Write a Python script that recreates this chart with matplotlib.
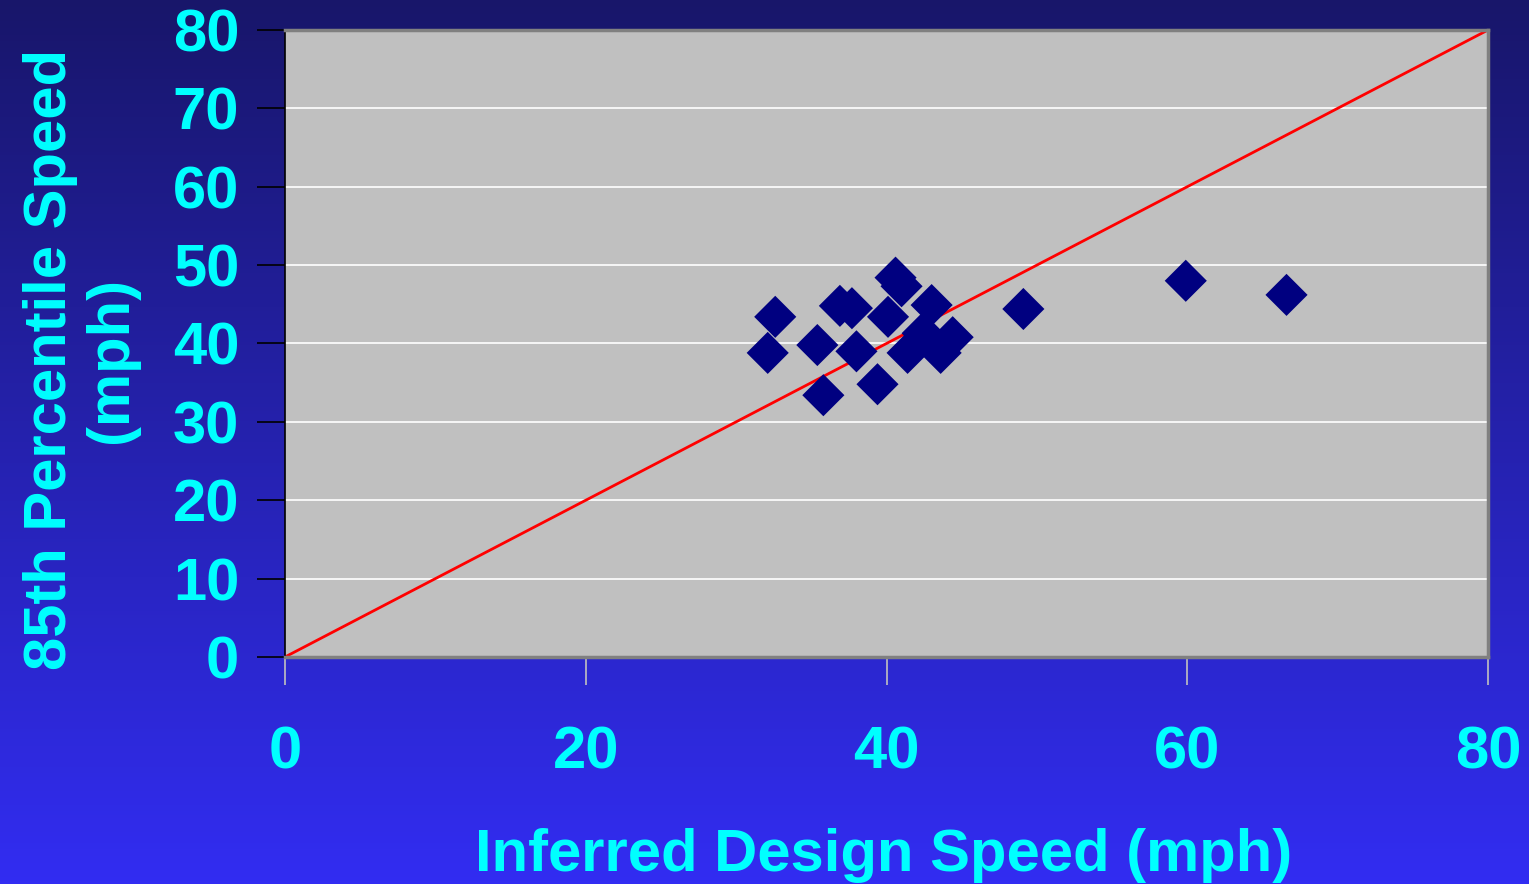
import numpy as np
import matplotlib.pyplot as plt
from matplotlib.colors import LinearSegmentedColormap

plt.rcParams['font.family'] = ['Liberation Sans', 'DejaVu Sans']

# inferred design speed vs. 85th percentile speed (mph)
design_speed = [32.6, 32.1, 35.4, 35.8, 36.9, 37.7, 38.0, 39.4, 40.1, 40.6,
                41.0, 43.0, 41.4, 42.4, 43.0, 44.4, 43.6, 49.1, 59.9, 66.6]
p85_speed = [43.4, 38.8, 39.8, 33.4, 44.8, 44.5, 39.0, 34.8, 43.4, 48.4,
             47.3, 44.9, 38.8, 41.3, 40.2, 40.8, 38.8, 44.4, 48.0, 46.2]
ticks = [0, 20, 40, 60, 80]
yticks = [0, 10, 20, 30, 40, 50, 60, 70, 80]

cyan = '#00FFFF'
fig = plt.figure(figsize=(15.29, 8.84), dpi=100)

# gradient backdrop
bg = fig.add_axes([0, 0, 1, 1], zorder=-10)
cmap = LinearSegmentedColormap.from_list('bg', ['#18166A', '#322DF2'])
bg.imshow(np.linspace(0, 1, 256).reshape(-1, 1), aspect='auto', cmap=cmap,
          extent=[0, 1, 0, 1], origin='upper')
bg.axis('off')

ax = fig.add_axes([0.1864, 0.2568, 0.7868, 0.7093])
ax.set_facecolor('#C0C0C0')
ax.set_xlim(0, 80)
ax.set_ylim(0, 80)

ax.plot([0, 80], [0, 80], color='#FF0000', lw=2, zorder=2)
ax.scatter(design_speed, p85_speed, marker='D', s=460, color='#000080',
           edgecolors='none', zorder=3, clip_on=False)

ax.set_yticks(yticks)
ax.set_xticks(ticks)
ax.grid(axis='y', color='white', lw=1.2)
ax.set_axisbelow(True)

ax.tick_params(axis='y', direction='out', length=20, width=1.2, color='black',
               labelsize=43, labelcolor=cyan, pad=13)
ax.tick_params(axis='x', direction='out', length=20, width=1.2, color='#C0C0C0',
               labelsize=43, labelcolor=cyan, pad=29)
for lab in ax.get_xticklabels() + ax.get_yticklabels():
    lab.set_fontweight('bold')

ax.spines['left'].set_color('black')
ax.spines['left'].set_linewidth(1.2)
for side in ['top', 'right', 'bottom']:
    ax.spines[side].set_color('#808080')
    ax.spines[side].set_linewidth(2.5)

fig.text(0.578, 0.032, 'Inferred Design Speed (mph)', color=cyan,
         fontsize=43, fontweight='bold', ha='center', va='center')
fig.text(0.053, 0.593, '85th Percentile Speed\n(mph)', color=cyan,
         fontsize=43, fontweight='bold', ha='center', va='center',
         rotation=90, linespacing=1.12)

fig.savefig('out.png', dpi=100)
